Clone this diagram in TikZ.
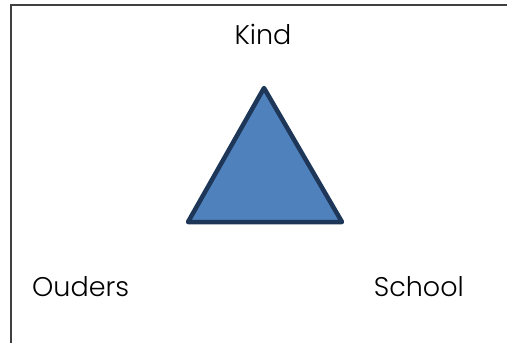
\documentclass[tikz,border=0pt]{standalone}
\usepackage{fontspec}
\setmainfont{Poppins Light}
\usetikzlibrary{positioning}
\definecolor{trifill}{RGB}{79,129,189}
\definecolor{triline}{RGB}{30,55,88}

\begin{document}
\begin{tikzpicture}[
    x=1pt,
    y=-1pt,
    frame/.style={
      line width=1.3pt,
      color=black!75,
    },
    triangle/.style={
      line width=4.5pt,
      line join=round,
      draw=triline,
      fill=trifill,
    },
    vertexlabel/.style={
      inner sep=0,
      anchor=base,
      font=\fontsize{27}{29}\selectfont,
      text depth=0pt,
    },
  ]
    \useasboundingbox (0,0) rectangle (507,343);

    % frame, open at the bottom and right
    \coordinate (framebl) at (11,343);
    \coordinate (frametl) at (11,5);
    \coordinate (frametr) at (507,5);
    \draw[frame] (framebl) -- (frametl) -- (frametr);

    \coordinate (apex) at (264,88);
    \coordinate (leftcorner) at (188,222);
    \coordinate (rightcorner) at (342,222);
    \draw[triangle] (apex) -- (rightcorner) -- (leftcorner) -- cycle;

    \node[vertexlabel] (kind) at (263,44) {Kind};
    \node[vertexlabel,anchor=base west] (ouders) at (32,296) {Ouders};
    \node[vertexlabel,anchor=base east] (school) at (464,296) {School};
  \end{tikzpicture}
\end{document}
